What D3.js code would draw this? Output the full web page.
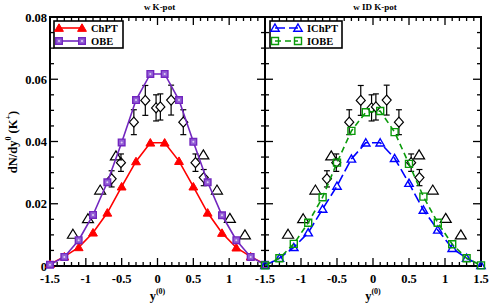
<!DOCTYPE html>
<html><head><meta charset="utf-8">
<script src="https://cdn.jsdelivr.net/npm/d3@7"></script>
<style>body{margin:0;background:#fff}svg{display:block}text{font-family:"Liberation Serif","Times New Roman",serif;font-weight:bold}</style>
</head><body><svg id="c" width="491" height="304"></svg>
<script>
// ---- data ----
const modelX = [-1.5,-1.3,-1.1,-0.9,-0.7,-0.5,-0.3,-0.1,0.1,0.3,0.5,0.7,0.9,1.1,1.3,1.5];
const chpt  = [0.0006,0.0030,0.0060,0.0107,0.0171,0.0255,0.0336,0.0396,0.0396,0.0337,0.0255,0.0171,0.0106,0.0059,0.0030,0.0006];
const obe   = [0.0004,0.0029,0.0083,0.0164,0.0269,0.0397,0.0533,0.0617,0.0617,0.0533,0.0399,0.0269,0.0163,0.0083,0.0029,0.0004];
const ichpt = [0.0002,0.0025,0.0060,0.0107,0.0183,0.0257,0.0344,0.0396,0.0396,0.0346,0.0266,0.0180,0.0116,0.0057,0.0025,0.0002];
const iobe  = [0.0002,0.0025,0.0071,0.0139,0.0221,0.0332,0.0434,0.0494,0.0498,0.0430,0.0328,0.0223,0.0139,0.0070,0.0025,0.0002];
const triX  = [-1.18,-0.97,-0.80,-0.58,0.64,0.83,1.01,1.22];
const triY  = [0.0102,0.0152,0.0244,0.0354,0.0357,0.0244,0.0153,0.0100];
const diaX  = [-0.64,-0.51,-0.33,-0.17,-0.02,0.04,0.19,0.36,0.53,0.645];
const diaY  = [0.0280,0.0332,0.0462,0.0532,0.0508,0.0511,0.0533,0.0462,0.0332,0.0284];
const diaE  = [0.0026,0.0028,0.0040,0.0048,0.0042,0.0042,0.0048,0.0040,0.0028,0.0026];
const yTicks = [0,0.02,0.04,0.06,0.08];
const yTickLabels = ["0","0.02","0.04","0.06","0.08"];
const xTicksLeft = [-1.5,-1,-0.5,0,0.5,1];
const xTicksRight = [-1.5,-1,-0.5,0,0.5,1,1.5];
const panelTitles = ["w K-pot","w ID K-pot"];

const svg = d3.select("#c");
const y = d3.scaleLinear().domain([0,0.08]).range([266,17]);
const xL = d3.scaleLinear().domain([-1.5,1.5]).range([50,265]);
const xR = d3.scaleLinear().domain([-1.5,1.5]).range([265,481]);

const PURPLE="#7226bf", PURPLEF="#9360d6", GREEN="#0a9a0a";
const minorX = d3.range(-15,16).map(d=>d/10);
const minorY = d3.range(0,17).map(d=>d*0.005);

function panel(x, xTicks, showYLabels, title){
  const [x0,x1]=x.range(), [y0,y1]=y.range();
  const g = svg.append("g");
  const tk = g.append("g").attr("stroke","#000").attr("stroke-width",1.3);
  minorX.forEach(v=>{
    const big = Math.abs(v*2-Math.round(v*2))<1e-6;
    const L = big?8:4;
    tk.append("line").attr("x1",x(v)).attr("x2",x(v)).attr("y1",y0).attr("y2",y0-L);
    tk.append("line").attr("x1",x(v)).attr("x2",x(v)).attr("y1",y1).attr("y2",y1+L);
  });
  minorY.forEach(v=>{
    const big = Math.abs(v/0.02-Math.round(v/0.02))<1e-6;
    const L = big?8:4;
    tk.append("line").attr("x1",x0).attr("x2",x0+L).attr("y1",y(v)).attr("y2",y(v));
    tk.append("line").attr("x1",x1).attr("x2",x1-L).attr("y1",y(v)).attr("y2",y(v));
  });
  g.append("rect").attr("x",x0).attr("y",y1).attr("width",x1-x0).attr("height",y0-y1)
    .attr("fill","none").attr("stroke","#000").attr("stroke-width",2);
  g.selectAll(".xl").data(xTicks).enter().append("text")
    .attr("x",d=>x(d)).attr("y",283).attr("text-anchor","middle").attr("font-size",12.5).text(d=>String(d));
  if(showYLabels){
    g.selectAll(".yl").data(yTicks).enter().append("text")
      .attr("x",47).attr("y",d=>y(d)+4.5).attr("text-anchor","end").attr("font-size",12.5)
      .text((d,i)=>yTickLabels[i]);
  }
  const cx=(x0+x1)/2;
  const t = g.append("text").attr("x",cx).attr("y",300).attr("text-anchor","middle").attr("font-size",12.5);
  t.append("tspan").text("y");
  t.append("tspan").attr("font-size",8).attr("dy",-6).text("(0)");
  g.append("text").attr("x",cx+2).attr("y",10).attr("text-anchor","middle").attr("font-size",9).text(title);
  return g;
}

function dataMarks(g,x){
  diaX.forEach((v,i)=>{
    const px=x(v), py=y(diaY[i]), top=y(diaY[i]+diaE[i]), bot=y(diaY[i]-diaE[i]);
    g.append("line").attr("x1",px).attr("x2",px).attr("y1",top).attr("y2",bot).attr("stroke","#000").attr("stroke-width",1.2);
    [top,bot].forEach(yy=>g.append("line").attr("x1",px-3).attr("x2",px+3).attr("y1",yy).attr("y2",yy).attr("stroke","#000").attr("stroke-width",1.2));
    g.append("path").attr("d",`M${px},${py-5}L${px+4.5},${py}L${px},${py+5}L${px-4.5},${py}Z`)
      .attr("fill","#fff").attr("stroke","#000").attr("stroke-width",1.2);
  });
  triX.forEach((v,i)=>{
    const px=x(v), py=y(triY[i]);
    g.append("path").attr("d",`M${px},${py-5}L${px+5.5},${py+4}L${px-5.5},${py+4}Z`)
      .attr("fill","none").attr("stroke","#000").attr("stroke-width",1.2);
  });
}

function triPath(px,py,s){return `M${px},${py-s}L${px+s*1.05},${py+s*0.8}L${px-s*1.05},${py+s*0.8}Z`;}
function sqPath(px,py,s){return `M${px-s},${py-s}h${2*s}v${2*s}h${-2*s}Z`;}

function curve(g,x,vals,color,dash,marker){
  const line=d3.line().x((d,i)=>x(modelX[i])).y(d=>y(d));
  g.append("path").datum(vals).attr("d",line).attr("fill","none").attr("stroke",color)
    .attr("stroke-width",1.6).attr("stroke-dasharray",dash||null);
  vals.forEach((v,i)=>marker(g,x(modelX[i]),y(v)));
}
const mChPT=(g,px,py)=>g.append("path").attr("d",triPath(px,py,4.2)).attr("fill","#ff0000").attr("stroke","#ff0000").attr("stroke-width",1);
const mOBE=(g,px,py)=>{g.append("path").attr("d",sqPath(px,py,3.3)).attr("fill",PURPLEF).attr("stroke",PURPLE).attr("stroke-width",1.4);
  g.append("circle").attr("cx",px).attr("cy",py).attr("r",1).attr("fill","#e0d0f2");};
const mIChPT=(g,px,py)=>g.append("path").attr("d",triPath(px,py,4)).attr("fill","none").attr("stroke","#0000ff").attr("stroke-width",1.4);
const mIOBE=(g,px,py)=>g.append("path").attr("d",sqPath(px,py,3.5)).attr("fill","none").attr("stroke",GREEN).attr("stroke-width",1.4);

function legend(g,x0,items){
  g.append("rect").attr("x",x0).attr("y",21).attr("width",items.w).attr("height",27)
    .attr("fill","#fff").attr("stroke","#000").attr("stroke-width",1.6);
  items.list.forEach((it,i)=>{
    const yy=28+i*13;
    g.append("line").attr("x1",x0+5).attr("x2",x0+28).attr("y1",yy).attr("y2",yy)
      .attr("stroke",it.color).attr("stroke-width",1.6).attr("stroke-dasharray",it.dash||null);
    it.marker(g,x0+5,yy); it.marker(g,x0+28,yy);
    g.append("text").attr("x",x0+37).attr("y",yy+4).attr("font-size",10.5).text(it.name);
  });
}

const gl = panel(xL,xTicksLeft,true,panelTitles[0]);
dataMarks(gl,xL);
curve(gl,xL,chpt,"#ff0000",null,mChPT);
curve(gl,xL,obe,PURPLE,null,mOBE);
legend(gl,54,{w:69,list:[{name:"ChPT",color:"#ff0000",marker:mChPT},{name:"OBE",color:PURPLE,marker:mOBE}]});

const gr = panel(xR,xTicksRight,false,panelTitles[1]);
dataMarks(gr,xR);
curve(gr,xR,ichpt,"#0000ff","10,4",mIChPT);
curve(gr,xR,iobe,GREEN,"6,4",mIOBE);
legend(gr,270,{w:72,list:[{name:"IChPT",color:"#0000ff",dash:"10,4",marker:mIChPT},{name:"IOBE",color:GREEN,dash:"6,4",marker:mIOBE}]});

const yt = svg.append("text").attr("transform","translate(17,142) rotate(-90)").attr("text-anchor","middle").attr("font-size",12.5);
yt.append("tspan").text("dN/dy");
yt.append("tspan").attr("font-size",8).attr("dy",-6).text("0");
yt.append("tspan").attr("dy",6).text(" (K");
yt.append("tspan").attr("font-size",8).attr("dy",-6).text("+");
yt.append("tspan").attr("dy",6).text(")");
</script></body></html>
